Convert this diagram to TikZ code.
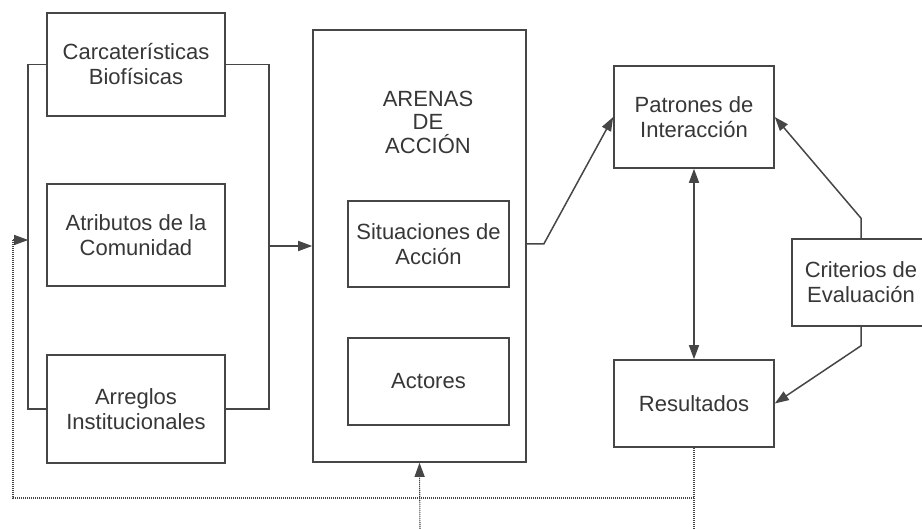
\documentclass[tikz,border=0pt]{standalone}
\usepackage{fontspec}
\setmainfont{Liberation Sans}
\usetikzlibrary{arrows.meta}
\definecolor{lc}{RGB}{70,70,70}
\definecolor{tc}{RGB}{55,55,55}
\begin{document}
\begin{tikzpicture}[x=1pt,y=-1pt,
  box/.style={draw=lc, line width=1.6pt, fill=white, align=center, inner sep=0pt, text=tc, font=\fontsize{22}{25}\selectfont},
  txt/.style={align=center, inner sep=0pt, text=tc, font=\fontsize{22}{23.5}\selectfont},
  conn/.style={draw=lc, line width=1.5pt},
  tip/.style={-{Triangle[length=14pt,width=10pt]}},
  dtip/.style={{Triangle[length=14pt,width=10pt]}-{Triangle[length=14pt,width=10pt]}},
  fb/.style={draw=lc, line width=1.1pt, dash pattern=on 1.2pt off 0.8pt}]
\useasboundingbox (0,0) rectangle (922,529);
\clip (0,0) rectangle (922,529);

% left column
\node[box, minimum width=178pt, minimum height=103pt] (car) at (136,64.5) {Carcaterísticas\\Biofísicas};
\node[box, minimum width=178pt, minimum height=102pt] (atr) at (136,235) {Atributos de la\\Comunidad};
\node[box, minimum width=178pt, minimum height=108pt] (arr) at (136,409) {Arreglos\\Institucionales};

% arenas
\node[box, minimum width=213pt, minimum height=432pt] (arenas) at (419.5,246) {};
\node[txt] (title) at (428,122) {ARENAS\\DE\\ACCIÓN};
\node[box, minimum width=161pt, minimum height=86pt] (sit) at (428.5,244) {Situaciones de\\Acción};
\node[box, minimum width=161pt, minimum height=87pt] (act) at (428.5,381.5) {Actores};

% right side
\node[box, minimum width=160pt, minimum height=102pt] (pat) at (694,117) {Patrones de\\Interacción};
\node[box, minimum width=160pt, minimum height=87pt] (res) at (694,403.5) {Resultados};
\node[box, minimum width=138pt, minimum height=87pt] (crit) at (861,282.5) {Criterios de\\Evaluación};

% brackets
\draw[conn] (car.west) -- ++(-18,0) coordinate (lbtop) |- (arr.west);
\draw[conn] (car.east) -- ++(43,0) coordinate (rbtop) |- (arr.east);
\draw[conn, tip] (rbtop |- arenas.west) -- (arenas.west);

% arenas to patrones
\draw[conn, tip] (sit -| arenas.east) -- ++(17,0) -- (pat.west);

% patrones <-> resultados
\draw[conn, dtip] (pat.south) -- (res.north);

% criterios
\draw[conn, tip] (crit.north) -- ++(0,-20) -- (pat.east);
\draw[conn, tip] (crit.south) -- ++(0,19) -- (res.east);

% feedback
\coordinate (fbL) at (13,498);
\coordinate (fbTop) at (13,240);
\coordinate (fbB) at (420,529);
\coordinate (fbR) at (694,529);
\draw[fb] (res.south) -- (fbR);
\draw[fb] (res.south |- fbL) -- (fbL) -- (fbTop);
\draw[fb, tip] (fbTop) -- (lbtop |- fbTop);
\draw[fb, tip] (fbB) -- (arenas.south);
\end{tikzpicture}
\end{document}
